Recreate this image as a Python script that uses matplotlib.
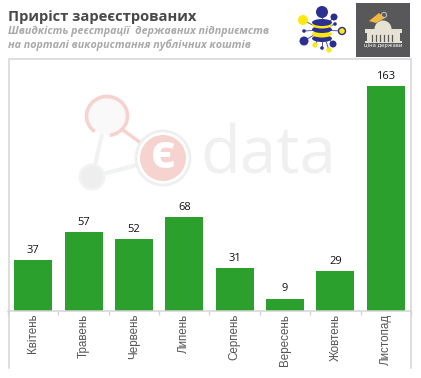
import matplotlib
matplotlib.use('Agg')
import matplotlib.pyplot as plt
from matplotlib.patches import Circle, Rectangle, Polygon, Ellipse, Arc

months = ['Квітень', 'Травень', 'Червень', 'Липень', 'Серпень', 'Вересень', 'Жовтень', 'Листопад']
values = [37, 57, 52, 68, 31, 9, 29, 163]

W, H = 421, 378
fig = plt.figure(figsize=(W / 100, H / 100), dpi=100, facecolor='white')

# pixel-space background layer: panel frame, watermark, logos
bg = fig.add_axes([0, 0, 1, 1], zorder=0)
bg.set_xlim(0, W)
bg.set_ylim(H, 0)
bg.axis('off')

FRAME = '#d4d4d4'
bg.plot([8.5, 8.5, 411, 411], [368, 58.5, 58.5, 368], color=FRAME, lw=1.1, solid_joinstyle='miter')

# watermark
PINK = '#f7d3d0'
LG = '#f1f2f2'
bg.plot([92, 163], [177, 158], color=LG, lw=3, zorder=0.5)
bg.plot([92, 102], [177, 135], color=LG, lw=3, zorder=0.5)
bg.add_patch(Circle((107, 116), 19, fc='#f9f9f9', ec='none', zorder=0.6))
bg.add_patch(Arc((107, 116), 41, 39, theta1=128, theta2=442, ec=PINK, lw=2.6, zorder=0.7))
bg.plot([123, 145], [130, 146], color=PINK, lw=2.5, zorder=0.7)
bg.add_patch(Circle((92, 177), 12, fc='#eeeeee', ec=LG, lw=2, zorder=0.8))
bg.add_patch(Circle((163, 158), 27, fc='white', ec='#f0efef', lw=2, zorder=0.8))
bg.add_patch(Circle((163, 158), 23, fc=PINK, ec='none', zorder=0.9))
bg.text(163, 156, 'є', fontsize=34, color='white', ha='center', va='center', fontweight='bold', family='Open Sans')
bg.text(200, 156, 'data', fontsize=47, color='#f0f0f0', ha='left', va='center', family='Open Sans')

# database logo
NAVY = '#2b2f8f'
YEL = '#fbe80f'
cx, cy = 322, 30
for x2, y2 in [(303, 20), (322, 12), (334, 17), (335, 24), (342, 31), (304, 31), (304, 41), (315, 45), (322, 48), (333, 44), (329, 50)]:
    bg.plot([cx, x2], [cy, y2], color='#555a9a', lw=0.7, zorder=0.5)
for x, y, r, c in [(322, 12, 6, NAVY), (334, 17, 3.5, NAVY), (335, 24, 1.8, NAVY), (303, 20, 5, YEL),
                   (304, 31, 1.8, NAVY), (304, 41, 4.5, NAVY), (315, 45, 2.6, YEL), (322, 48, 1.8, NAVY),
                   (329, 50, 2.6, YEL), (333, 44, 3.5, NAVY)]:
    bg.add_patch(Circle((x, y), r, fc=c, ec='none'))
bg.add_patch(Circle((342, 31), 3.5, fc=YEL, ec=NAVY, lw=1))
for y, c in [(38.5, NAVY), (34, YEL), (29.5, NAVY), (25, YEL), (22.5, NAVY)]:
    bg.add_patch(Ellipse((322, y), 20, 7, fc=c, ec='none'))

# second logo
bg.add_patch(Rectangle((356, 3), 54, 54, fc='#58585a', ec='none'))
CR = '#e6e3d5'
bg.add_patch(Circle((383, 29), 8.5, fc=CR, ec='none'))
bg.add_patch(Rectangle((365, 29), 37, 4, fc=CR, ec='none'))
bg.add_patch(Rectangle((367, 33), 33, 9, fc=CR, ec='none'))
bg.add_patch(Rectangle((365, 41), 37, 2, fc=CR, ec='none'))
for x in range(372, 396, 4):
    bg.plot([x, x], [35, 41], color='#58585a', lw=0.9)
bg.add_patch(Polygon([(369, 21), (379, 13), (385, 18), (376, 23)], fc='#f0b840', ec='none'))
bg.add_patch(Circle((384, 15), 2.6, fc='none', ec='#bbbbbb', lw=0.8))
bg.text(383, 46, 'ціна держави', fontsize=3.8, color='white', ha='center', va='center', family='DejaVu Sans')

# header text
bg.text(8, 16.5, 'Приріст зареєстрованих', fontsize=10.6, color='#494949', fontweight='bold',
        family='Open Sans', ha='left', va='center')
bg.text(8, 31, 'Швидкість реєстрації  державних підприємств', fontsize=7.75, color='#a9a9a9',
        fontweight='bold', style='italic', family='Open Sans', ha='left', va='center')
bg.text(8, 45.5, 'на порталі використання публічних коштів', fontsize=7.75, color='#a9a9a9',
        fontweight='bold', style='italic', family='Open Sans', ha='left', va='center')

# chart
ax = fig.add_axes([8 / W, (H - 311) / H, 403 / W, 252.5 / H], zorder=1)
ax.patch.set_alpha(0)
xs = list(range(len(months)))
bars = ax.bar(xs, values, width=0.755, color='#2ca02c')
ax.set_xlim(-0.5, len(months) - 0.5)
ax.set_ylim(0, 183)
ax.set_yticks([])
for s in ['top', 'left', 'right']:
    ax.spines[s].set_visible(False)
ax.spines['bottom'].set_color(FRAME)
ax.spines['bottom'].set_linewidth(1.1)
ax.set_xticks([x + 0.5 for x in [-1] + xs], minor=True)
ax.tick_params(axis='x', which='minor', length=3, color=FRAME, width=1)
ax.set_xticks(xs)
ax.set_xticklabels(months, rotation=90, fontsize=8.4, color='#555555', family='Liberation Sans')
ax.tick_params(axis='x', which='major', length=0, pad=2)
for x, v in zip(xs, values):
    ax.annotate(str(v), (x, v), xytext=(0, 3), textcoords='offset points', ha='center', va='bottom',
                fontsize=8, color='#111111', family='Open Sans')

fig.savefig('out.png', dpi=100)
